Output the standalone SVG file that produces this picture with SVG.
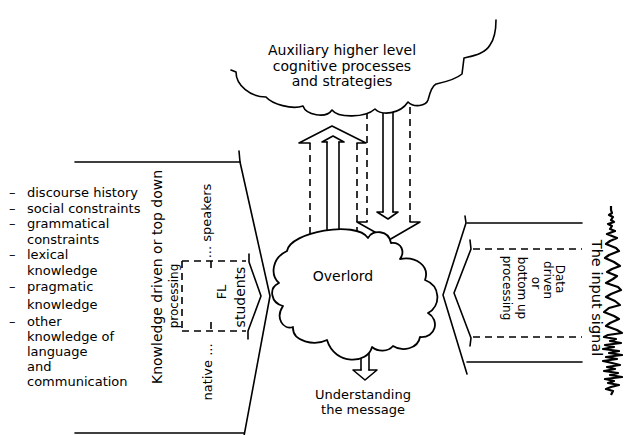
<svg xmlns="http://www.w3.org/2000/svg" width="624" height="435" viewBox="0 0 624 435">
  <style>
    .ln { stroke: #000; stroke-width: 1.6; fill: none; stroke-linejoin: round; stroke-linecap: round; }
    .dash { stroke-dasharray: 7 5; stroke-linecap: butt; }
    .cloud { stroke: #000; stroke-width: 1.8; fill: #fff; stroke-linejoin: round; }
    .t { font-family: "DejaVu Sans", "Liberation Sans", sans-serif; fill: #000; }
    .c { text-anchor: middle; }
  </style>

  <rect width="624" height="435" fill="#fff"/>

  <!-- connectors: arrows between the processes -->
  <g id="connectors">
    <!-- upward double arrow: Overlord to auxiliary processes -->
    <g id="arrow-up">
      <line class="ln dash" x1="310" y1="143" x2="310" y2="246"/>
      <line class="ln dash" x1="357" y1="143" x2="357" y2="236"/>
      <path class="ln" d="M310 143 L299 143 L332 126 L366 143 L357 143"/>
      <line class="ln" x1="327" y1="142" x2="327" y2="240"/>
      <line class="ln" x1="339" y1="142" x2="339" y2="240"/>
      <path class="ln" d="M327 142 L322 142 L333 136 L344 142 L339 142"/>
    </g>
    <!-- downward double arrow: auxiliary processes to Overlord -->
    <g id="arrow-down">
      <line class="ln dash" x1="367" y1="100" x2="367" y2="222"/>
      <line class="ln dash" x1="410" y1="95" x2="410" y2="222"/>
      <path class="ln" d="M367 222 L357 222 L389 240 L420 222 L410 222"/>
      <line class="ln" x1="383" y1="100" x2="383" y2="212"/>
      <line class="ln" x1="393" y1="100" x2="393" y2="212"/>
      <path class="ln" d="M383 212 L377 212 L388 219 L398 212 L393 212"/>
    </g>
    <!-- output arrow: Overlord to understanding -->
    <g id="arrow-out">
      <line class="ln" x1="361" y1="340" x2="361" y2="370"/>
      <line class="ln" x1="369" y1="340" x2="369" y2="370"/>
      <path class="ln" d="M361 370 L353 370 L365 380 L377 370 L369 370"/>
    </g>
  </g>

  <!-- top-down processing: broad arrow from the left -->
  <g id="top-down">
    <path class="ln" d="M75 162 L240 162"/>
    <path class="ln" d="M75 433 L244 433"/>
    <path class="ln" d="M239 151 L240 162 L270 296 L244 436"/>
    <path class="ln dash" d="M182 261 L246 261 M182 331 L246 331 M182 261 L182 331 M211 261 L211 271 M211 322 L211 331"/>
    <path class="ln" d="M249 254 L249 262 L261 296 L248 331 L248 339"/>
    <text class="t c" font-size="14" transform="translate(162,277) rotate(-90)">Knowledge driven or top down</text>
    <text class="t c" font-size="12" transform="translate(178,296) rotate(-90)">processing</text>
    <text class="t c" font-size="13" transform="translate(211,221) rotate(-90)">... speakers</text>
    <text class="t c" font-size="13" transform="translate(212,372) rotate(-90)">native ...</text>
    <text class="t c" font-size="13" transform="translate(226,292) rotate(-90)">FL</text>
    <text class="t c" font-size="14" transform="translate(245,297) rotate(-90)">students</text>
  </g>

  <!-- knowledge sources listed on the left -->
  <g id="knowledge-list" class="t" font-size="13">
    <text x="9" y="197">–</text><text x="27" y="197">discourse history</text>
    <text x="9" y="213">–</text><text x="27" y="213">social constraints</text>
    <text x="9" y="228">–</text><text x="27" y="228">grammatical</text>
    <text x="27" y="244">constraints</text>
    <text x="9" y="259">–</text><text x="27" y="259">lexical</text>
    <text x="27" y="275">knowledge</text>
    <text x="9" y="291">–</text><text x="27" y="291">pragmatic</text>
    <text x="27" y="309">knowledge</text>
    <text x="9" y="326">–</text><text x="27" y="326">other</text>
    <text x="27" y="341">knowledge of</text>
    <text x="27" y="356">language</text>
    <text x="27" y="371">and</text>
    <text x="27" y="386">communication</text>
  </g>

  <!-- auxiliary higher level processes (open cloud at the top) -->
  <g id="auxiliary">
    <path fill="#fff" stroke="none" d="M232 69 L236 72 C236 85 250 97 266 97 C272 104 292 110 303 106 C306 115 326 119 332 110 C338 118 365 118 375 109 C382 116 400 114 408 102 C414 108 426 106 428 100 C430 92 432 86 436 84 C445 82 455 80 462 74 L464 58 C472 56 485 54 490 45 C495 38 496 30 496 20 L496 0 L232 0 Z"/>
    <path class="ln" stroke-width="1.8" d="M231 70 L236 72 C236 85 250 97 266 97 C272 104 292 110 303 106 C306 115 326 119 332 110 C338 118 365 118 375 109 C382 116 400 114 408 102 C414 108 426 106 428 100 C430 92 432 86 436 84 C445 82 455 80 462 74 L464 58 C472 56 485 54 490 45 C495 38 496 30 496 20"/>
    <text class="t c" font-size="14" x="342" y="55">Auxiliary higher level</text>
    <text class="t c" font-size="14" x="342" y="71">cognitive processes</text>
    <text class="t c" font-size="14" x="342" y="86">and strategies</text>
  </g>

  <!-- central Overlord -->
  <g id="overlord">
    <path class="cloud" d="M287 251 C290 232 356 220 368 238 C372 229 389 230 391 243 C402 242 405 252 400 259 C416 256 430 266 425 280 C441 286 441 306 428 313 C440 320 436 338 420 337 C418 349 402 352 393 346 C388 352 378 352 372 347 C368 364 335 366 327 340 C315 346 292 342 293 327 C283 330 275 318 283 306 C271 303 268 288 279 283 C270 275 272 258 287 251 Z"/>
    <text class="t c" font-size="14" x="343" y="281">Overlord</text>
  </g>

  <!-- result -->
  <g id="understanding">
    <text class="t c" font-size="13" x="363" y="399">Understanding</text>
    <text class="t c" font-size="13" x="363" y="414">the message</text>
  </g>

  <!-- bottom-up processing: broad arrow from the right -->
  <g id="bottom-up">
    <path class="ln" d="M467 223 L582 223 M467 362 L582 362"/>
    <path class="ln" d="M465 216 L466 223 L443 295 L467 374"/>
    <path class="ln dash" d="M473 249 L582 249 M473 337 L582 337"/>
    <path class="ln" d="M470 240 L471 249 L454 293 L471 338 L470 346"/>
    <text class="t c" font-size="12" transform="translate(556,279) rotate(90)">Data</text>
    <text class="t c" font-size="12" transform="translate(544,280) rotate(90)">driven</text>
    <text class="t c" font-size="12" transform="translate(532,283) rotate(90)">or</text>
    <text class="t c" font-size="12" transform="translate(518,288) rotate(90)">bottom up</text>
    <text class="t c" font-size="12" transform="translate(503,288) rotate(90)">processing</text>
  </g>

  <!-- the acoustic input -->
  <g id="input-signal">
    <text class="t c" font-size="14.5" transform="translate(592,298) rotate(90)">The input signal</text>
    <polyline fill="none" stroke="#000" stroke-width="2.2" stroke-linejoin="round" points="611,206 611,210 612,213 609,215 613,217 611,220 614,222 608,224 612,226 610,229 615,231 607,234 617,238 610,241 606,244 616,248 619,251 609,255 605,258 614,262 620,266 612,269 607,272 617,276 613,279 606,283 618,287 621,290 611,294 606,297 615,301 620,305 609,308 604,312 614,316 619,319 610,323 606,326 617,330 622,333 608,335 604,337 616,339 610,341 621,343 605,345 614,347 603,349 619,351 609,353 622,355 606,357 617,359 603,361 612,363 620,365 607,367 615,369 604,371 618,373 610,375 622,377 605,379 614,381 608,383 619,385 611,387 606,389 613,391 611,395"/>
  </g>
</svg>
